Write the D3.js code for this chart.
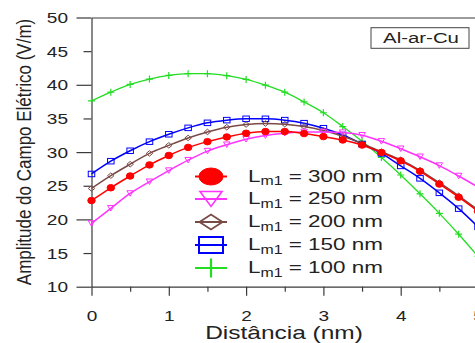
<!DOCTYPE html>
<html>
<head>
<meta charset="utf-8">
<script src="https://cdn.jsdelivr.net/npm/d3@7"></script>
<style>
  body { margin:0; background:#fff; }
  svg { display:block; }
  text { font-family: "Liberation Sans", Arial, sans-serif; fill:#222; }
</style>
</head>
<body>
<div id="chart"></div>
<script>
var widthC = 475, heightC = 343
var SX = 1.36

var distancia = [0,0.25,0.5,0.75,1,1.25,1.5,1.75,2,2.25,2.5,2.75,3,3.25,3.5,3.75,4,4.25,4.5,4.75,5]
var lm300 = [22.8,24.7,26.45,28.1,29.5,30.7,31.55,32.25,32.8,33.05,33.05,32.75,32.3,31.8,31.05,29.95,28.7,27.15,25.25,23.3,21.2]
var lm250 = [19.4,21.65,23.85,25.6,27.25,28.8,30.15,31.1,31.9,32.45,32.8,33.0,33.0,32.9,32.5,31.6,30.5,29.3,28.0,26.45,24.8]
var lm200 = [24.6,26.5,28.2,29.8,31.0,32.1,33.0,33.7,34.1,34.25,34.15,33.8,33.2,32.35,31.3,30.05,28.85,27.3,25.45,23.5,21.4]
var lm150 = [26.75,28.65,30.2,31.55,32.65,33.6,34.35,34.75,34.95,34.95,34.75,34.3,33.55,32.55,31.2,29.8,27.95,26.1,23.95,21.6,18.9]
var lm100 = [37.6,38.9,40.05,40.85,41.4,41.65,41.65,41.35,40.8,39.95,38.9,37.45,35.85,33.8,31.6,29.2,26.6,23.8,20.9,17.8,14.5]

var yTicks = [10,15,20,25,30,35,40,45,50]
var xTicks = [0,0.5,1,1.5,2,2.5,3,3.5,4,4.5,5]
var legendLabels = ["300","250","200","150","100"]
var anotacao = "Al-ar-Cu"

var series = [
  {name:"300", v:lm300, color:"#ff0000", sym:"circle"},
  {name:"250", v:lm250, color:"#ff33ff", sym:"tri"},
  {name:"200", v:lm200, color:"#7a4a46", sym:"diamond"},
  {name:"150", v:lm150, color:"#0000ff", sym:"square"},
  {name:"100", v:lm100, color:"#22dd22", sym:"plus"}
]

var svg = d3.select("#chart").append("svg").attr("width",widthC).attr("height",heightC)

var x = d3.scaleLinear().domain([0,5]).range([91.5,478])
var y = d3.scaleLinear().domain([10,50]).range([286.7,17.5])

// axes
var axisColor = "#3a3a3a"
var gy = svg.append("g").attr("transform","translate("+x(0)+",0)")
  .call(d3.axisLeft(y).tickValues(yTicks).tickSize(8).tickSizeOuter(0))
gy.selectAll(".tick line").attr("x2",function(d){ return d%10==0 ? -15 : -8 })
gy.selectAll(".tick text")
  .attr("x",null).attr("dy","0.36em").attr("text-anchor","end")
  .attr("transform","translate(-23.5,0) scale("+SX+",1)")
  .style("font-size","14px")

var gx = svg.append("g").attr("transform","translate(0,"+y(10)+")")
  .call(d3.axisBottom(x).tickValues(xTicks).tickSize(9).tickSizeOuter(0)
    .tickFormat(function(d){ return d%1==0 ? d3.format("d")(d) : "" }))
gx.selectAll(".tick line").attr("y2",function(d){ return d%1==0 ? 9 : 5 })
gx.selectAll(".tick text")
  .attr("y",null).attr("dy",0).attr("text-anchor","middle")
  .attr("transform","translate(0,34) scale("+SX+",1)")
  .style("font-size","14px")

var gt = svg.append("g").attr("transform","translate(0,"+y(50)+")")
  .call(d3.axisTop(x).tickValues([]).tickSizeOuter(0))

svg.selectAll(".domain, .tick line").attr("stroke",axisColor).attr("stroke-width",1.2)
svg.selectAll(".tick text").attr("fill","#222").style("font-family","'Liberation Sans', Arial, sans-serif")

// labels
svg.append("text")
  .attr("transform","translate(284,339) scale("+SX+",1)")
  .attr("text-anchor","middle").style("font-size","18px")
  .text("Distância (nm)")
svg.append("text")
  .attr("transform","translate(31,152) scale(1.17,1) rotate(-90)")
  .attr("text-anchor","middle").style("font-size","17px")
  .text("Amplitude do Campo Elétrico (V/m)")

// curves
var line = d3.line()
  .x(function(d,i){ return x(distancia[i]) })
  .y(function(d){ return y(d) })
  .curve(d3.curveMonotoneX)

function marker(g, sym, color, w, h, sw){
  if (sym=="circle"){
    g.append("ellipse").attr("rx",w/2).attr("ry",h/2).attr("fill",color).attr("stroke",color)
  } else if (sym=="tri"){
    g.append("path").attr("d","M"+(-w/2)+","+(-h/2)+"L"+(w/2)+","+(-h/2)+"L0,"+(h/2)+"Z")
      .attr("fill","none").attr("stroke",color).attr("stroke-width",sw)
  } else if (sym=="diamond"){
    g.append("path").attr("d","M"+(-w/2)+",0L0,"+(-h/2)+"L"+(w/2)+",0L0,"+(h/2)+"Z")
      .attr("fill","none").attr("stroke",color).attr("stroke-width",sw)
  } else if (sym=="square"){
    g.append("rect").attr("x",-w/2).attr("y",-h/2).attr("width",w).attr("height",h)
      .attr("fill","none").attr("stroke",color).attr("stroke-width",sw)
  } else {
    g.append("path").attr("d","M"+(-w/2)+",0H"+(w/2)+"M0,"+(-h/2)+"V"+(h/2))
      .attr("fill","none").attr("stroke",color).attr("stroke-width",sw)
  }
}

var plot = svg.append("g")
series.slice().reverse().forEach(function(s){
  plot.append("path").datum(s.v).attr("d",line)
    .attr("fill","none").attr("stroke",s.color)
    .attr("stroke-width", s.sym=="plus" ? 1.3 : 1.5)
  s.v.forEach(function(v,i){
    var g = plot.append("g").attr("transform","translate("+x(distancia[i])+","+y(v)+")")
    if (s.sym=="circle") marker(g,"circle",s.color,7.5,6.5,1)
    else if (s.sym=="plus") marker(g,"plus",s.color,7,7,1.2)
    else marker(g,s.sym,s.color,6.5,5.5,1)
  })
})

// legend
var legY = [176.5,199,222,245,268]
var leg = svg.append("g")
series.forEach(function(s,i){
  var g = leg.append("g").attr("transform","translate(211,"+legY[i]+")")
  g.append("line").attr("x1",-16).attr("x2",16).attr("stroke",s.color).attr("stroke-width",2)
  if (s.sym=="circle") marker(g,"circle",s.color,24,17,1)
  else if (s.sym=="tri") marker(g,"tri",s.color,22,15,1.6)
  else if (s.sym=="diamond") marker(g,"diamond",s.color,23,15,1.8)
  else if (s.sym=="square") marker(g,"square",s.color,24,16,2)
  else marker(g,"plus",s.color,32,19,2.2)
  var t = leg.append("text")
    .attr("transform","translate(248,"+(legY[i]+5)+") scale(1.32,1)")
    .style("font-size","17px")
  t.append("tspan").text("L")
  t.append("tspan").attr("dy",3.5).style("font-size","12px").text("m1")
  t.append("tspan").attr("dy",-3.5).text(" = "+legendLabels[i]+" nm")
})

// annotation box
svg.append("rect").attr("x",371).attr("y",27.7).attr("width",98).attr("height",20.6)
  .attr("fill","#fff").attr("stroke","#444").attr("stroke-width",1)
svg.append("text")
  .attr("transform","translate(421,42.7) scale("+SX+",1)")
  .attr("text-anchor","middle").style("font-size","15px")
  .text(anotacao)
</script>
</body>
</html>
